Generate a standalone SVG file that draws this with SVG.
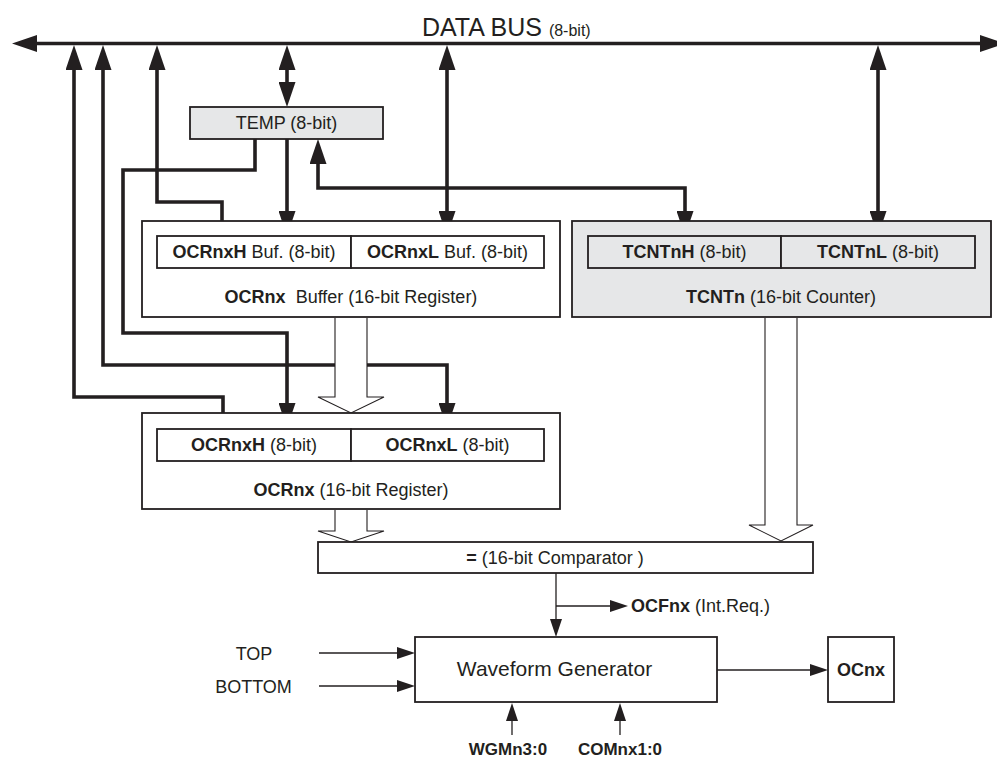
<svg xmlns="http://www.w3.org/2000/svg" width="997" height="758" viewBox="0 0 997 758">
<defs>
<style>
text{font-family:"Liberation Sans",Arial,Helvetica,sans-serif;fill:#231f20;font-size:18px}
.b{font-weight:bold}
.box{fill:#fff;stroke:#231f20;stroke-width:1.8}
.gray{fill:#e6e7e8;stroke:#231f20;stroke-width:1.8}
.thick{fill:none;stroke:#231f20;stroke-width:3.6;stroke-linejoin:miter}
.thin{fill:none;stroke:#231f20;stroke-width:1.3}
.hollow{fill:#fff;stroke:#231f20;stroke-width:1.1}
.mid{text-anchor:middle}
</style>
<marker id="ah" markerUnits="userSpaceOnUse" viewBox="0 0 25 17" markerWidth="25" markerHeight="17" refX="0" refY="8.5" orient="auto-start-reverse">
<path d="M0,0 L25,8.5 L0,17 z" fill="#231f20"/>
</marker>
<marker id="ta" markerUnits="userSpaceOnUse" viewBox="0 0 18 12" markerWidth="18" markerHeight="12" refX="0" refY="6" orient="auto-start-reverse">
<path d="M0,0 L18,6 L0,12 z" fill="#231f20"/>
</marker>
</defs>
<rect width="997" height="758" fill="#fff"/>

<g id="connectors">
<path class="thick" d="M37,43.5 H980" marker-start="url(#ah)" marker-end="url(#ah)"/>
<path class="thick" d="M74,70 V397 H223 V428" marker-start="url(#ah)"/>
<path class="thick" d="M103,70 V365 H447 V403" marker-start="url(#ah)" marker-end="url(#ah)"/>
<path class="thick" d="M157,70 V202 H222 V236" marker-start="url(#ah)"/>
<path class="thick" d="M287,70 V82" marker-start="url(#ah)" marker-end="url(#ah)"/>
<path class="thick" d="M447,70 V211" marker-start="url(#ah)" marker-end="url(#ah)"/>
<path class="thick" d="M878,70 V211" marker-start="url(#ah)" marker-end="url(#ah)"/>
<path class="thick" d="M287,139 V211" marker-end="url(#ah)"/>
<path class="thick" d="M255,139 V170 H123 V333 H287 V403" marker-end="url(#ah)"/>
<path class="thick" d="M318,164 V188 H685 V211" marker-start="url(#ah)" marker-end="url(#ah)"/>
<path class="hollow" d="M335,318 V397 H318 L351,413 L384,397 H367 V318"/>
<path class="hollow" d="M335,510 V531 H318 L351,542 L384,531 H367 V510"/>
<path class="hollow" d="M765,318 V525 H749 L781,541 L813,525 H797 V318"/>
<path class="thin" d="M556,573 V619" marker-end="url(#ta)"/>
<path class="thin" d="M556,606 H610" marker-end="url(#ta)"/>
<path class="thin" d="M319,653 H397" marker-end="url(#ta)"/>
<path class="thin" d="M319,686 H397" marker-end="url(#ta)"/>
<path class="thin" d="M512,735 V721" marker-end="url(#ta)"/>
<path class="thin" d="M620,735 V721" marker-end="url(#ta)"/>
<path class="thin" d="M717,670 H810" marker-end="url(#ta)"/>
</g>

<g id="databus">
<text x="422" y="36" style="font-size:25px">DATA BUS <tspan style="font-size:16px">(8-bit)</tspan></text>
</g>

<g id="temp">
<rect class="gray" x="190" y="107" width="193" height="32"/>
<text class="mid" x="286.5" y="129">TEMP (8-bit)</text>
</g>

<g id="ocr-buffer">
<rect class="box" x="142" y="221" width="418" height="96"/>
<rect class="box" x="157" y="236" width="194" height="32"/>
<rect class="box" x="351" y="236" width="193" height="32"/>
<text class="mid" x="254" y="258"><tspan class="b">OCRnxH</tspan> Buf. (8-bit)</text>
<text class="mid" x="447.5" y="258"><tspan class="b">OCRnxL</tspan> Buf. (8-bit)</text>
<text class="mid" x="351" y="303" xml:space="preserve"><tspan class="b">OCRnx</tspan>  Buffer (16-bit Register)</text>
</g>

<g id="tcnt">
<rect class="gray" x="572" y="221" width="419" height="96"/>
<rect class="gray" x="588" y="236" width="193" height="32"/>
<rect class="gray" x="781" y="236" width="194" height="32"/>
<text class="mid" x="684.5" y="258"><tspan class="b">TCNTnH</tspan> (8-bit)</text>
<text class="mid" x="878" y="258"><tspan class="b">TCNTnL</tspan> (8-bit)</text>
<text class="mid" x="781" y="303"><tspan class="b">TCNTn</tspan> (16-bit Counter)</text>
</g>

<g id="ocr-register">
<rect class="box" x="142" y="413" width="418" height="96"/>
<rect class="box" x="157" y="429" width="194" height="32"/>
<rect class="box" x="351" y="429" width="193" height="32"/>
<text class="mid" x="254" y="451"><tspan class="b">OCRnxH</tspan> (8-bit)</text>
<text class="mid" x="447.5" y="451"><tspan class="b">OCRnxL</tspan> (8-bit)</text>
<text class="mid" x="351" y="496"><tspan class="b">OCRnx</tspan> (16-bit Register)</text>
</g>

<g id="comparator">
<rect class="box" x="318" y="542" width="495" height="31"/>
<text class="mid" x="555" y="564"><tspan class="b">=</tspan> (16-bit Comparator )</text>
</g>

<g id="ocfnx">
<text x="631" y="612"><tspan class="b">OCFnx</tspan> (Int.Req.)</text>
</g>

<g id="waveform-generator">
<rect class="box" x="415" y="637" width="302" height="65"/>
<text class="mid" x="554.5" y="676" style="font-size:21px">Waveform Generator</text>
</g>

<g id="ocnx">
<rect class="box" x="828" y="637" width="66" height="65"/>
<text class="mid b" x="861" y="676">OCnx</text>
</g>

<g id="inputs">
<text class="mid" x="254" y="659.5">TOP</text>
<text class="mid" x="253.5" y="692.5">BOTTOM</text>
<text class="mid b" x="508" y="755" style="font-size:17px">WGMn3:0</text>
<text class="mid b" x="620" y="755" style="font-size:17px">COMnx1:0</text>
</g>
</svg>
